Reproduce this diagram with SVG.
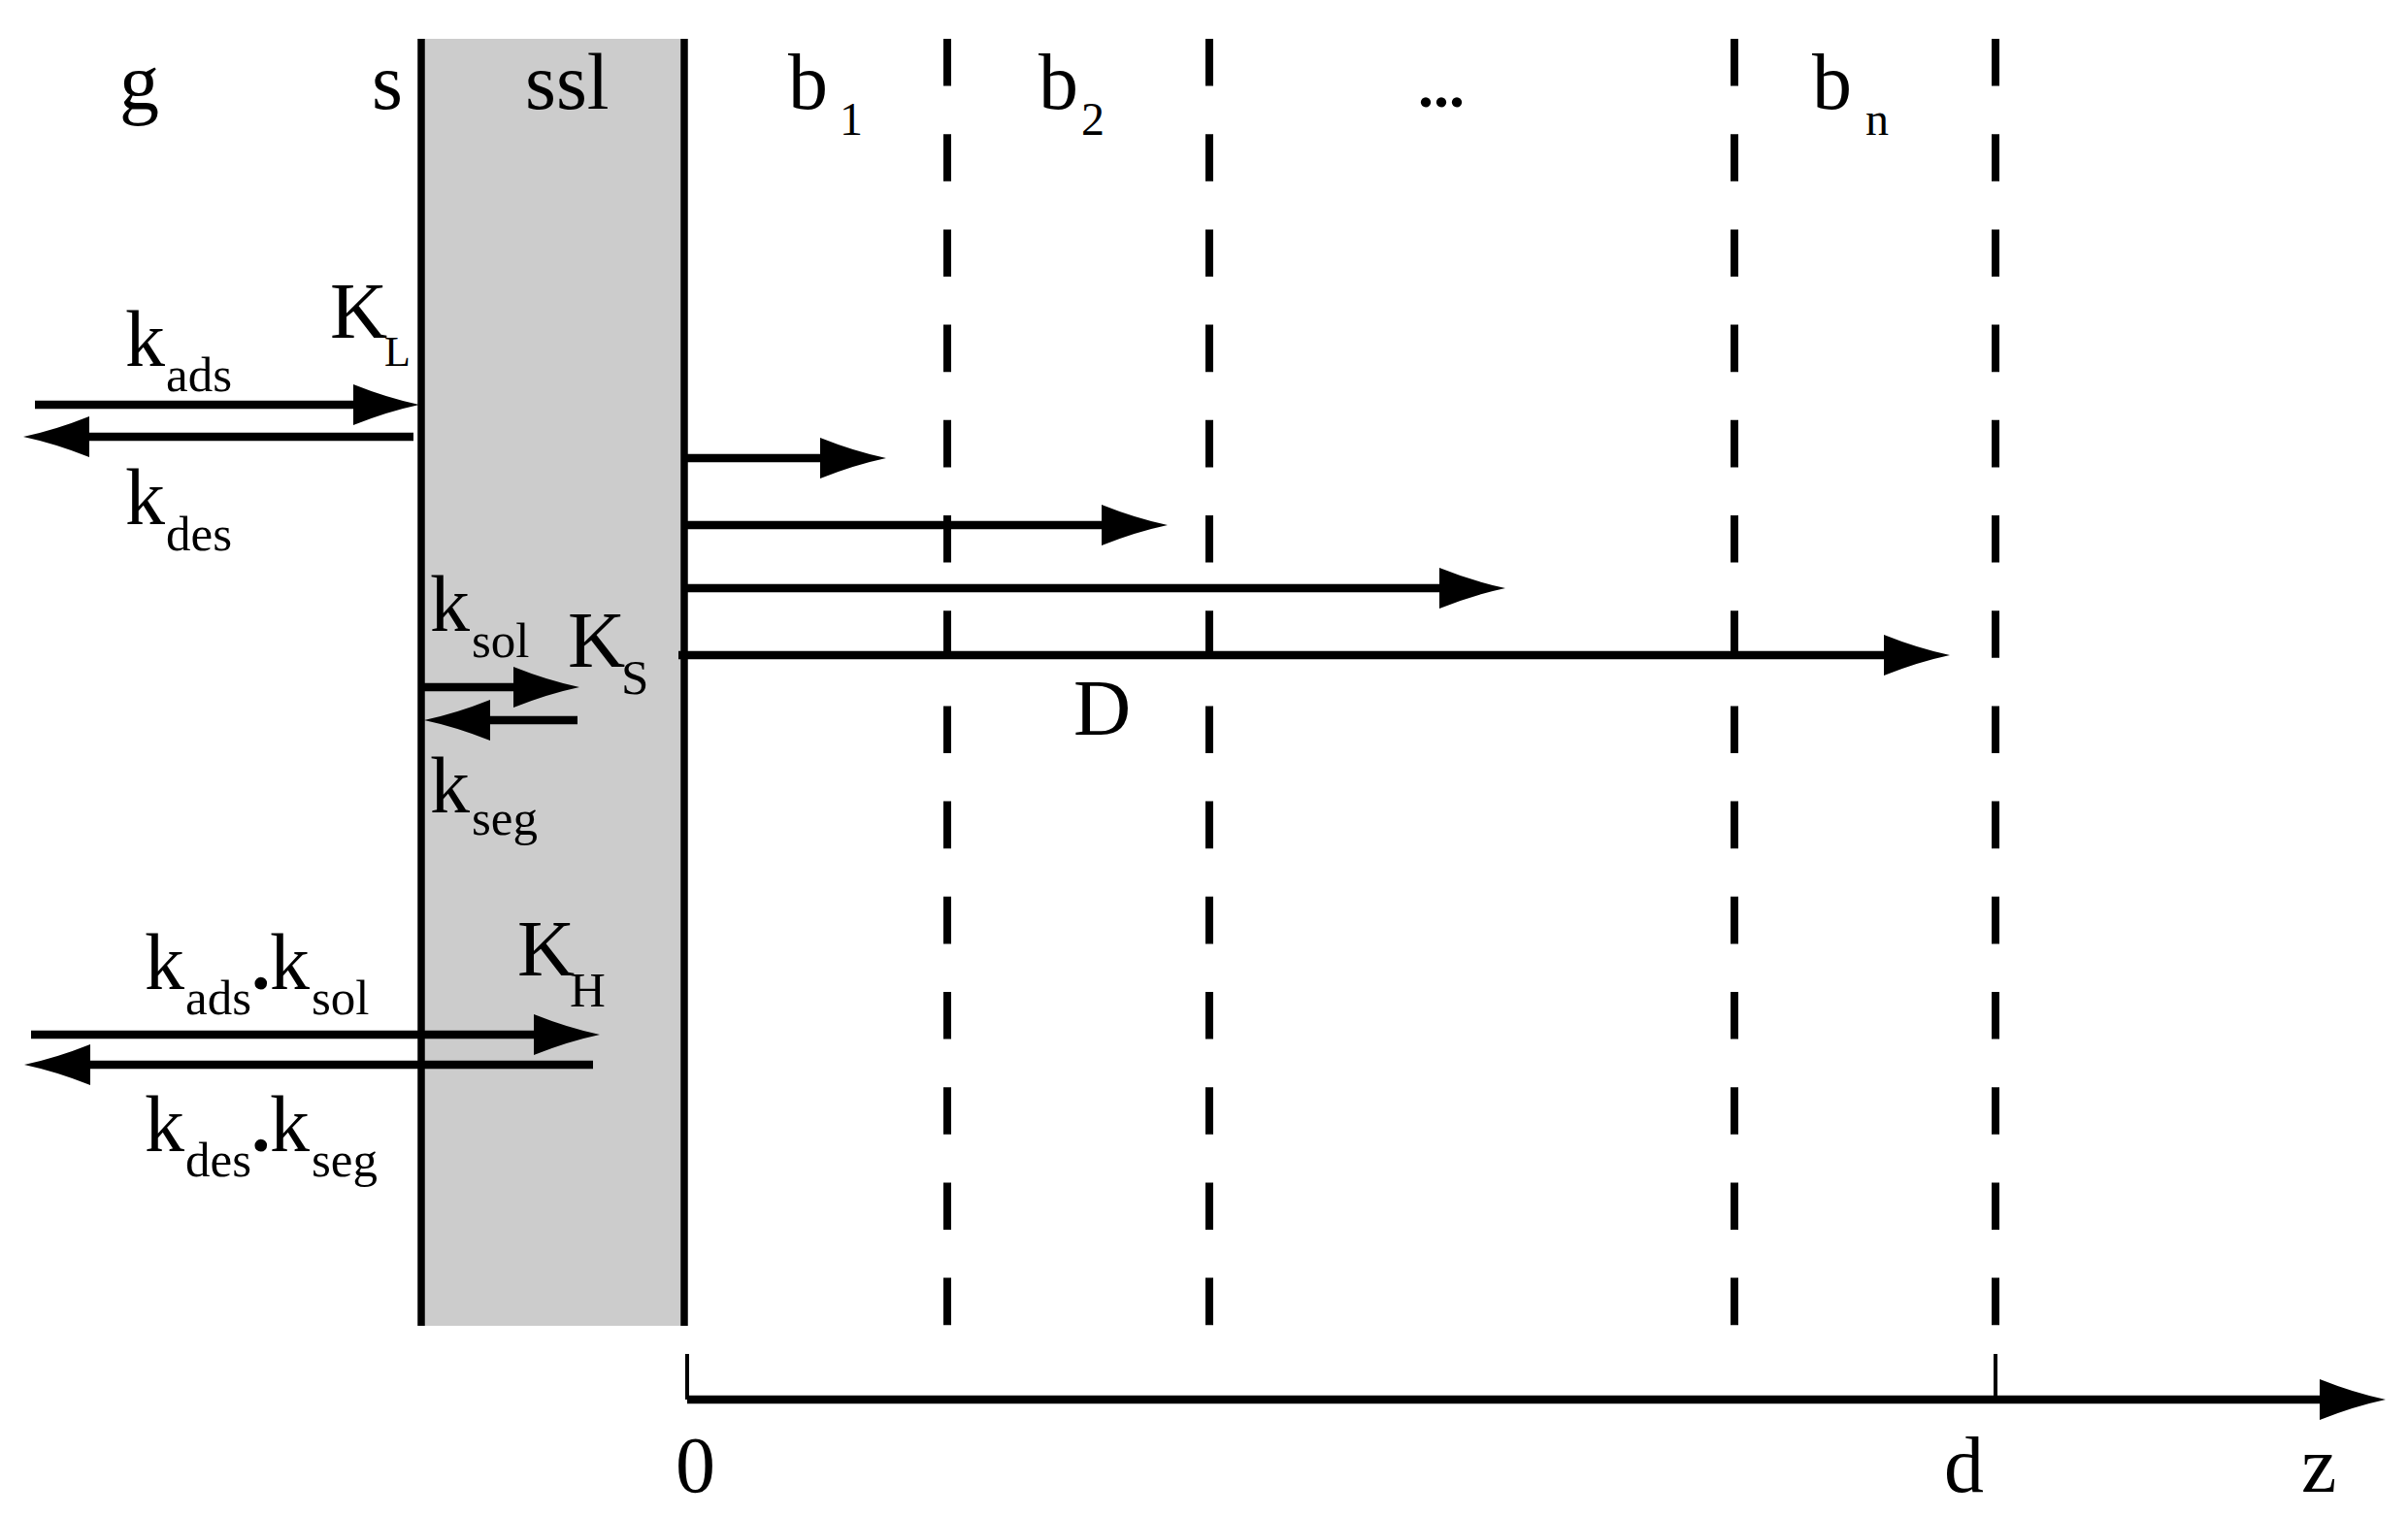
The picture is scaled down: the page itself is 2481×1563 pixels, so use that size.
<svg xmlns="http://www.w3.org/2000/svg" xmlns:xlink="http://www.w3.org/1999/xlink" width="2481" height="1563" viewBox="0 0 2481 1563">
<style>
  text { font-family: "Liberation Serif", "Times New Roman", serif; fill: #000; }
  .m { font-size: 82px; }
  .s { font-size: 51px; }
  .s2 { font-size: 48px; }
  .dot { font-size: 78px; font-weight: bold; }
  .solid { stroke: #000; stroke-width: 7.5; fill: none; }
  .dash { stroke: #000; stroke-width: 8; fill: none; stroke-dasharray: 48.6 49.6; }
  .shaft { stroke: #000; stroke-width: 8.5; fill: none; }
  .tick { stroke: #000; stroke-width: 4; fill: none; }
</style>
<defs>
  <path id="ah" d="M0,0 Q-33,-7 -68,-21 L-68,21 Q-33,7 0,0 Z" fill="#000"/>
</defs>
<rect width="2481" height="1563" fill="#fff"/>

<g id="ssl-layer">
  <rect x="434" y="40" width="271" height="1326" fill="#cccccc"/>
  <line class="solid" x1="434" y1="40" x2="434" y2="1366"/>
  <line class="solid" x1="705" y1="40" x2="705" y2="1366"/>
</g>

<g id="bulk-boundaries">
  <line class="dash" x1="976" y1="40" x2="976" y2="1366"/>
  <line class="dash" x1="1246" y1="40" x2="1246" y2="1366"/>
  <line class="dash" x1="1787" y1="40" x2="1787" y2="1366"/>
  <line class="dash" x1="2056" y1="40" x2="2056" y2="1366"/>
</g>

<g id="region-labels">
  <text class="m" x="123" y="112">g</text>
  <text class="m" x="383" y="112">s</text>
  <text class="m" x="541" y="112">ssl</text>
  <text class="m" x="812" y="112">b</text><text class="s2" x="865" y="139">1</text>
  <text class="m" x="1070" y="112">b</text><text class="s2" x="1114" y="139">2</text>
  <text class="dot" x="1461" y="110" style="font-size:64px">...</text>
  <text class="m" x="1867" y="112">b</text><text class="s2" x="1922" y="139">n</text>
</g>

<g id="connectors">
  <line class="shaft" x1="36" y1="417" x2="380" y2="417"/>
  <use xlink:href="#ah" href="#ah" transform="translate(432,417)"/>
  <line class="shaft" x1="426" y1="450" x2="80" y2="450"/>
  <use xlink:href="#ah" href="#ah" transform="translate(24,450) scale(-1,1)"/>

  <line class="shaft" x1="704" y1="472" x2="860" y2="472"/>
  <use xlink:href="#ah" href="#ah" transform="translate(913,472)"/>
  <line class="shaft" x1="704" y1="541" x2="1150" y2="541"/>
  <use xlink:href="#ah" href="#ah" transform="translate(1203,541)"/>
  <line class="shaft" x1="704" y1="606" x2="1500" y2="606"/>
  <use xlink:href="#ah" href="#ah" transform="translate(1551,606)"/>
  <line class="shaft" x1="699" y1="675" x2="1960" y2="675"/>
  <use xlink:href="#ah" href="#ah" transform="translate(2009,675)"/>

  <line class="shaft" x1="437" y1="708" x2="545" y2="708"/>
  <use xlink:href="#ah" href="#ah" transform="translate(597,708)"/>
  <line class="shaft" x1="595" y1="742" x2="490" y2="742"/>
  <use xlink:href="#ah" href="#ah" transform="translate(437,742) scale(-1,1)"/>

  <line class="shaft" x1="32" y1="1066" x2="570" y2="1066"/>
  <use xlink:href="#ah" href="#ah" transform="translate(618,1066)"/>
  <line class="shaft" x1="611" y1="1097" x2="80" y2="1097"/>
  <use xlink:href="#ah" href="#ah" transform="translate(25,1097) scale(-1,1)"/>
</g>

<g id="rate-labels">
  <text class="m" x="340" y="348">K</text><text class="s" x="396" y="377" style="font-size:44px">L</text>
  <text class="m" x="129" y="377">k</text><text class="s" x="171" y="403">ads</text>
  <text class="m" x="129" y="540">k</text><text class="s" x="171" y="567">des</text>
  <text class="m" x="443" y="650">k</text><text class="s" x="486" y="677">sol</text>
  <text class="m" x="585" y="687">K</text><text class="s" x="640" y="715">S</text>
  <text class="m" x="443" y="837">k</text><text class="s" x="486" y="860">seg</text>
  <text class="m" x="533" y="1005">K</text><text class="s" x="587" y="1037">H</text>
  <text class="m" x="149" y="1019">k</text><text class="s" x="191" y="1045">ads</text><text class="dot" x="259" y="1019">.</text><text class="m" x="278" y="1019">k</text><text class="s" x="321" y="1045">sol</text>
  <text class="m" x="149" y="1186">k</text><text class="s" x="191" y="1212">des</text><text class="dot" x="259" y="1186">.</text><text class="m" x="278" y="1186">k</text><text class="s" x="321" y="1212">seg</text>
  <text class="m" x="1106" y="757">D</text>
</g>

<g id="z-axis">
  <line class="tick" x1="708" y1="1395" x2="708" y2="1442"/>
  <line class="tick" x1="2056" y1="1395" x2="2056" y2="1442"/>
  <line class="shaft" x1="708" y1="1442" x2="2400" y2="1442"/>
  <use xlink:href="#ah" href="#ah" transform="translate(2458,1442)"/>
  <text class="m" x="696" y="1537">0</text>
  <text class="m" x="2003" y="1537">d</text>
  <text class="m" x="2371" y="1537">z</text>
</g>
</svg>
